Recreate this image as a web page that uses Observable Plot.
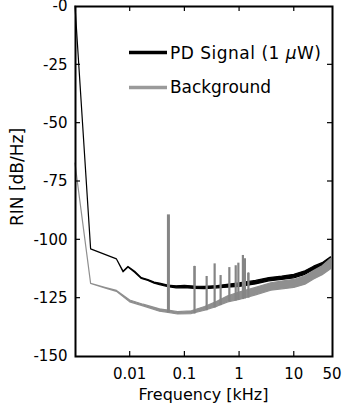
<!DOCTYPE html>
<html><head><meta charset="utf-8">
<script src="https://cdn.jsdelivr.net/npm/d3@7"></script>
<script src="https://cdn.jsdelivr.net/npm/@observablehq/plot@0.6"></script>
<style>body{margin:0;background:#fff}</style>
</head><body><div id="chart"></div>
<script>
// PD signal (1 µW): frequency [kHz], upper / lower edge of the noisy trace [dB/Hz]
const sigFreq = [0.001, 0.00193, 0.00573, 0.00755, 0.0093, 0.0123, 0.0163, 0.0215, 0.028, 0.0351, 0.05, 0.0706, 0.1, 0.15, 0.23, 0.4, 0.6, 1, 2, 3.5, 6, 10, 16, 23, 33, 47];
const sigHi   = [0, -104.1, -108.4, -113.6, -111.6, -113.7, -116.4, -117.2, -118.3, -118.8, -119.6, -119.9, -119.7, -120, -120.2, -119.8, -119.3, -118.7, -117.6, -116.4, -115.8, -115, -113.5, -111.5, -110, -107.5];
const sigLo   = [0, -104.1, -108.4, -113.9, -111.9, -114.1, -116.8, -117.6, -118.8, -119.4, -120.3, -120.8, -120.7, -121, -121.1, -120.8, -120.5, -120.2, -119.1, -117.8, -117.2, -116.5, -115, -113, -111.3, -108.5];
// Background
const bgFreq = [0.001, 0.0011, 0.00193, 0.0035, 0.00573, 0.01, 0.0175, 0.0351, 0.05, 0.075, 0.134, 0.234, 0.4, 0.62, 1, 2, 3.8, 6, 10, 16, 23, 33, 47];
const bgHi   = [-67.3, -75, -118.9, -120.6, -121.9, -126, -127.8, -129.8, -130.3, -131, -130.6, -128.8, -126.4, -124.2, -122.6, -120.6, -118.6, -117.9, -117.2, -115.6, -113.4, -111.3, -108.2];
const bgLo   = [-67.3, -75, -118.9, -120.8, -122.3, -126.8, -128.5, -130.8, -131.3, -132, -131.8, -130.4, -128.6, -126.8, -125.8, -123.8, -121.8, -121.2, -120.6, -119.2, -117, -115.2, -112.6];
// Mains harmonics (spikes)
const bgSpikeFreq = [0.05, 0.15, 0.25, 0.35, 0.45, 0.65, 0.85, 0.95, 1.15, 1.25, 1.45];
const bgSpikePeak = [-89.3, -111.4, -115.7, -110.3, -115.3, -111.9, -111.1, -110, -106.7, -108.1, -114.3];
const bgSpikeBase = [-131.3, -131.8, -130.4, -129.2, -128.2, -126.6, -126.2, -126, -125.6, -125.3, -125];
const sigSpikeFreq = [0.05, 0.15, 1.45];
const sigSpikePeak = [-90, -111.4, -114.3];
const sigSpikeBase = [-120.3, -121, -120];
// Axes
const xTickVals = [0.01, 0.1, 1, 10];
const xLabelVals = [0.01, 0.1, 1, 10, 50];
const yTickVals = [-150, -125, -100, -75, -50, -25, 0];
const seriesNames = ["PD Signal (1 ", "Background"];

const BLACK = "#000", GRAY = "#8f8f8f", SPIKE = "#858585";
const sig = sigFreq.map((f, i) => ({f, hi: sigHi[i], lo: sigLo[i]}));
const bg = bgFreq.map((f, i) => ({f, hi: bgHi[i], lo: bgLo[i]}));
const bgSp = bgSpikeFreq.map((f, i) => ({f, peak: bgSpikePeak[i], base: bgSpikeBase[i]}));
const sigSp = sigSpikeFreq.map((f, i) => ({f, peak: sigSpikePeak[i], base: sigSpikeBase[i]}));

const plot = Plot.plot({
  width: 344, height: 412,
  marginLeft: 75, marginRight: 12, marginTop: 6, marginBottom: 56,
  style: {fontFamily: "DejaVu Sans", fontSize: "15px", background: "white", color: "black", overflow: "visible"},
  x: {type: "log", domain: [0.001, 50], axis: null},
  y: {domain: [-150, 0], axis: null},
  marks: [
    Plot.areaY(sig, {x: "f", y1: "lo", y2: "hi", fill: BLACK, stroke: BLACK, strokeWidth: 1.2}),
    Plot.ruleX(sigSp, {x: "f", y1: "base", y2: "peak", stroke: BLACK, strokeWidth: 1.5}),
    Plot.areaY(bg, {x: "f", y1: "lo", y2: "hi", fill: GRAY, stroke: GRAY, strokeWidth: 1.2}),
    Plot.ruleX(bgSp, {x: "f", y1: "base", y2: "peak", stroke: SPIKE, strokeWidth: d => d.f === 0.05 ? 3 : 2.2}),
    Plot.frame({stroke: BLACK, strokeWidth: 2}),
    Plot.axisY({ticks: yTickVals, tickSize: 0, tickPadding: 8, tickFormat: d => d === 0 ? "-0" : String(d), label: null})
  ]
});
document.getElementById("chart").appendChild(plot);

const svg = d3.select(plot);
const sx = plot.scale("x"), sy = plot.scale("y");
const [l, r] = sx.range, [b, t] = sy.range;
const g = svg.append("g").attr("stroke", "black").attr("stroke-width", 1.2);
xTickVals.forEach(v => {
  const x = sx.apply(v);
  g.append("line").attr("x1", x).attr("x2", x).attr("y1", b).attr("y2", b - 5);
  g.append("line").attr("x1", x).attr("x2", x).attr("y1", t).attr("y2", t + 5);
});
yTickVals.slice(1, -1).forEach(v => {
  const y = sy.apply(v);
  g.append("line").attr("x1", l).attr("x2", l + 5).attr("y1", y).attr("y2", y);
  g.append("line").attr("x1", r).attr("x2", r - 5).attr("y1", y).attr("y2", y);
});
// x tick labels
const xl = svg.append("g").attr("font-family", "DejaVu Sans").attr("font-size", 15).attr("text-anchor", "middle");
xLabelVals.forEach(v => {
  xl.append("text").attr("x", sx.apply(v)).attr("y", b + 23).text(String(v));
});

// axis labels
svg.append("text").attr("x", (l + r) / 2).attr("y", 400).attr("text-anchor", "middle")
  .attr("font-family", "DejaVu Sans").attr("font-size", 16).text("Frequency [kHz]");
svg.append("text").attr("transform", `translate(23,177) rotate(-90)`).attr("text-anchor", "middle")
  .attr("font-family", "DejaVu Sans").attr("font-size", 17).text("RIN [dB/Hz]");

// legend
const lg = svg.append("g").attr("font-family", "DejaVu Sans").attr("font-size", 17).attr("text-anchor", "start");
lg.append("line").attr("x1", 129).attr("x2", 167).attr("y1", 52.5).attr("y2", 52.5).attr("stroke", BLACK).attr("stroke-width", 3.5);
const t1 = lg.append("text").attr("x", 170).attr("y", 58.5).attr("textLength", 151).attr("lengthAdjust", "spacing");
t1.append("tspan").text(seriesNames[0]);
t1.append("tspan").attr("font-style", "italic").text("μ");
t1.append("tspan").text("W)");
lg.append("line").attr("x1", 129).attr("x2", 167).attr("y1", 87.5).attr("y2", 87.5).attr("stroke", "#9a9a9a").attr("stroke-width", 3.5);
lg.append("text").attr("x", 170).attr("y", 93).attr("textLength", 101).attr("lengthAdjust", "spacing").text(seriesNames[1]);
</script>
</body></html>
